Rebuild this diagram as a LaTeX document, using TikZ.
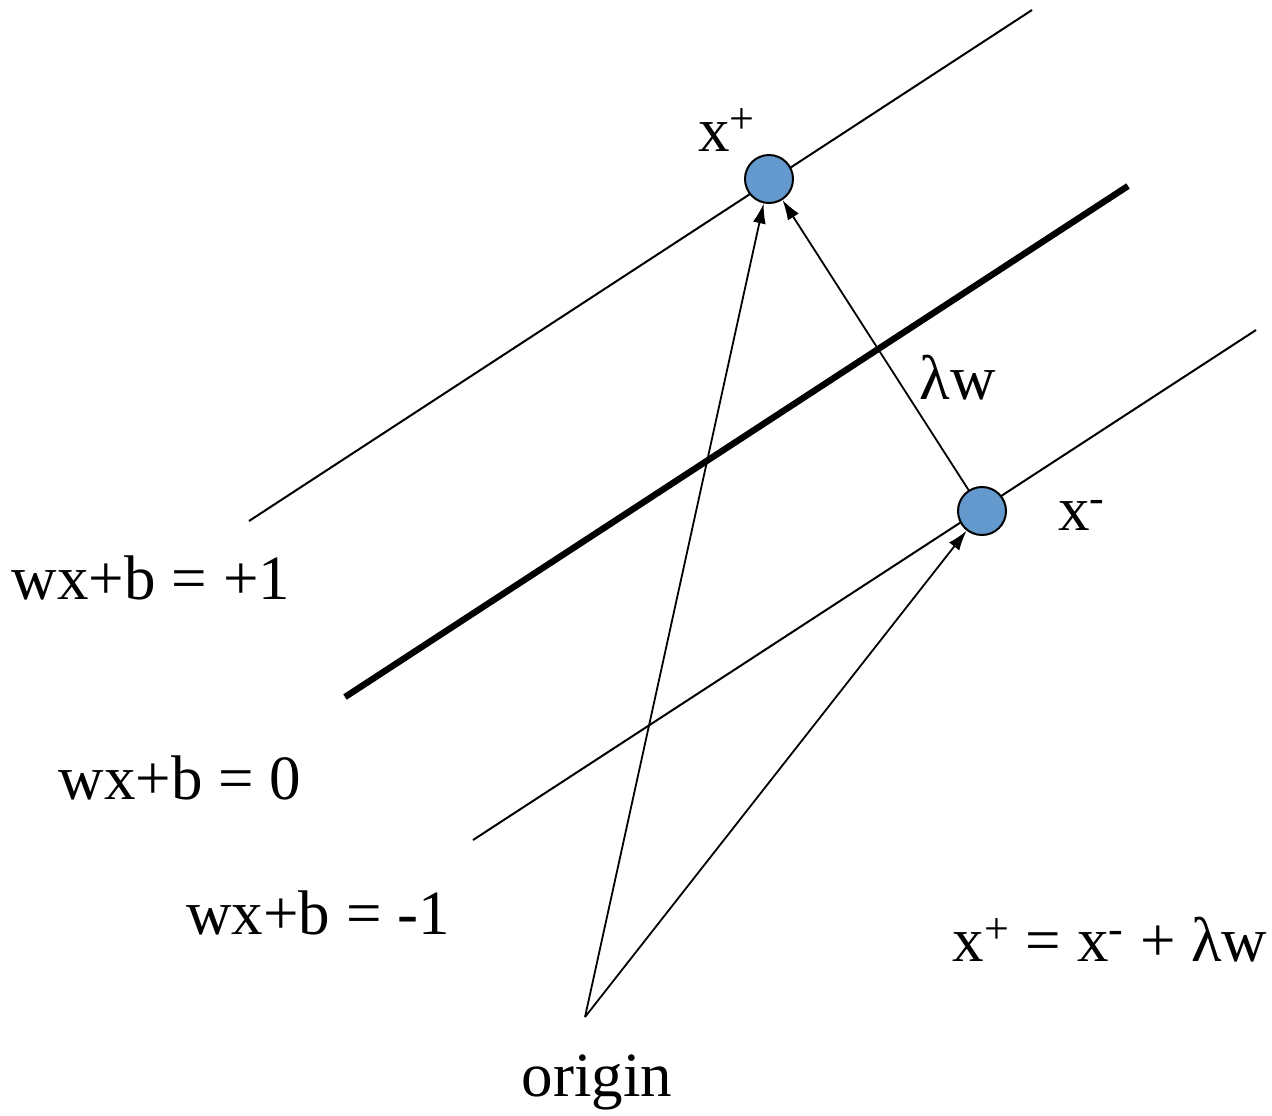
\documentclass[tikz,border=0pt]{standalone}
\usepackage{fontspec}
\setmainfont{Liberation Serif}
\usetikzlibrary{arrows.meta}
\begin{document}
\begin{tikzpicture}[x=0.5pt,y=-0.5pt,
  thin line/.style={line width=1pt},
  thick line/.style={line width=3.2pt},
  pt/.style={circle,draw=black,line width=1pt,fill={rgb,255:red,99;green,153;blue,204},minimum size=24pt,inner sep=0pt},
  vec/.style={line width=0.9pt,-{Latex[length=10pt,width=6.5pt]}},
  lbl/.style={inner sep=0pt,font=\fontsize{31.5}{38}\selectfont}]
\useasboundingbox (0,0) rectangle (1272,1115);
\coordinate (p1a) at (249,521);
\coordinate (p1b) at (1032,10);
\coordinate (z0a) at (345,697);
\coordinate (z0b) at (1128,186);
\coordinate (m1a) at (473,840);
\coordinate (m1b) at (1256,330);
\coordinate (origin) at (585,1017);
\draw[thin line] (p1a) -- (p1b);
\draw[thick line] (z0a) -- (z0b);
\draw[thin line] (m1a) -- (m1b);
\node[pt] (xp) at (769,179) {};
\node[pt] (xm) at (982,511) {};
\draw[vec] (origin) -- (xp);
\draw[vec] (origin) -- (xm);
\draw[vec] (xm) -- (xp);
\node[lbl] (lxp) at (727,130) {x\textsuperscript{+}};
\node[lbl] (lxm) at (1082,515) {x\textsuperscript{-}};
\node[lbl] (llw) at (958,378) {λw};
\node[lbl] (lp1) at (151,578) {wx+b = +1};
\node[lbl] (lz0) at (180,778) {wx+b = 0};
\node[lbl] (lm1) at (318,913) {wx+b = -1};
\node[lbl] (leq) at (1110,940) {x\textsuperscript{+} = x\textsuperscript{-} + λw};
\node[lbl] (lor) at (597,1082) {origin};
\end{tikzpicture}
\end{document}
